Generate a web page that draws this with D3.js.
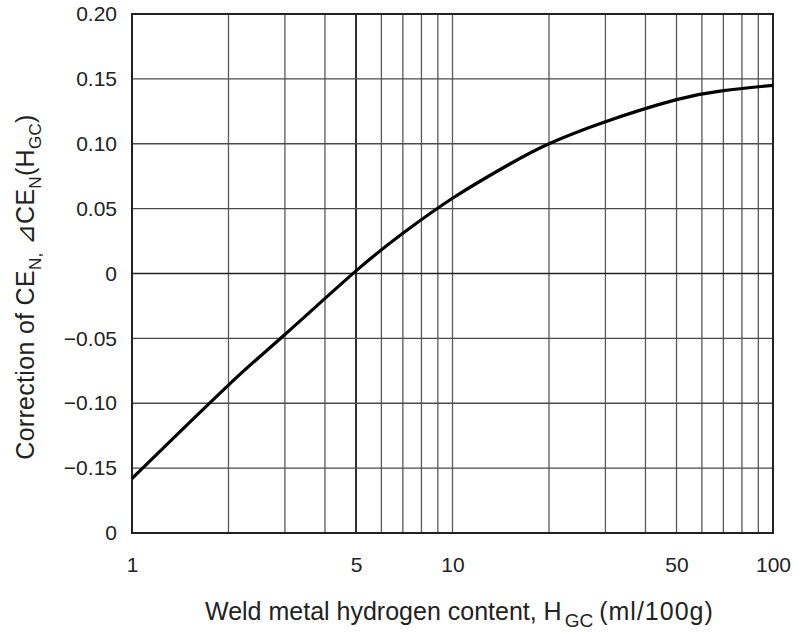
<!DOCTYPE html>
<html>
<head>
<meta charset="utf-8">
<script src="https://cdn.jsdelivr.net/npm/d3@7"></script>
<style>
  html, body { margin: 0; padding: 0; background: #fff; }
  svg { display: block; }
  .tick text { font-family: "Liberation Sans", Arial, sans-serif; font-size: 21px; fill: #222; }
  .title { font-family: "Liberation Sans", Arial, sans-serif; font-size: 25px; fill: #222; }
</style>
</head>
<body>
<svg id="chart" width="800" height="637"></svg>
<script>
// Hydrogen content H_GC (ml/100g) and the correction ΔCE_N(H_GC)
const hydrogen = [1, 2, 3, 5, 7, 10, 15, 20, 30, 50, 70, 100];
const correction = [-0.158, -0.086, -0.047, 0.002, 0.031, 0.058, 0.084, 0.100, 0.117, 0.134, 0.141, 0.145];

// Axis ticks and labels
const xTicks = [1, 5, 10, 50, 100];
const yTicks = [0.20, 0.15, 0.10, 0.05, 0, -0.05, -0.10, -0.15, -0.20];
const yTickLabels = ["0.20", "0.15", "0.10", "0.05", "0", "\u22120.05", "\u22120.10", "\u22120.15", "0"];
const xGrid = [2, 3, 4, 5, 6, 7, 8, 9, 10, 20, 30, 40, 50, 60, 70, 80, 90];
const yGrid = [0.15, 0.10, 0.05, 0, -0.05, -0.10, -0.15];

const svg = d3.select("#chart");
const plotL = 132, plotR = 773, plotT = 14, plotB = 533;

const x = d3.scaleLog().domain([1, 100]).range([plotL, plotR]);
const y = d3.scaleLinear().domain([-0.20, 0.20]).range([plotB, plotT]);

// grid
svg.append("g").selectAll("line").data(xGrid).join("line")
  .attr("x1", d => x(d)).attr("x2", d => x(d))
  .attr("y1", plotT).attr("y2", plotB)
  .attr("stroke", d => d === 5 ? "#1a1a1a" : "#5a5a5a")
  .attr("stroke-width", d => d === 5 ? 1.8 : 1.3);

svg.append("g").selectAll("line").data(yGrid).join("line")
  .attr("x1", plotL).attr("x2", plotR)
  .attr("y1", d => y(d)).attr("y2", d => y(d))
  .attr("stroke", d => d === 0 ? "#222" : "#4a4a4a")
  .attr("stroke-width", d => d === 0 ? 1.6 : 1.3);

// frame
svg.append("rect")
  .attr("x", plotL).attr("y", plotT)
  .attr("width", plotR - plotL).attr("height", plotB - plotT)
  .attr("fill", "none").attr("stroke", "#222").attr("stroke-width", 2);

// axes
const yAxis = d3.axisLeft(y).tickValues(yTicks).tickSize(0).tickPadding(15)
  .tickFormat((d, i) => yTickLabels[i]);
svg.append("g").attr("transform", `translate(${plotL},0)`).call(yAxis)
  .call(g => g.select(".domain").remove());

const xAxis = d3.axisBottom(x).tickValues(xTicks).tickSize(0).tickPadding(24)
  .tickFormat(d3.format("d"));
svg.append("g").attr("transform", `translate(0,${plotB})`).call(xAxis)
  .call(g => g.select(".domain").remove());

// curve
const line = d3.line()
  .x((d, i) => x(hydrogen[i]))
  .y(d => y(d))
  .curve(d3.curveNatural);
svg.append("path")
  .datum(correction)
  .attr("d", line)
  .attr("fill", "none")
  .attr("stroke", "#000")
  .attr("stroke-width", 3.2)
  .attr("stroke-linejoin", "round");

// x title
const xt = svg.append("text").attr("class", "title")
  .attr("x", 205).attr("y", 620).attr("text-anchor", "start");
xt.append("tspan").text("Weld metal hydrogen content, H");
xt.append("tspan").attr("font-size", "19px").attr("dx", 3).attr("dy", 7).text("GC");
xt.append("tspan").attr("dx", 6).attr("dy", -7).attr("letter-spacing", "1px").text("(ml/100g)");

// y title
const yt = svg.append("text").attr("class", "title")
  .attr("font-size", "26px")
  .attr("letter-spacing", "0.3px")
  .attr("transform", "translate(34,287) rotate(-90)")
  .attr("text-anchor", "middle");
yt.append("tspan").text("Correction of CE");
yt.append("tspan").attr("font-size", "17px").attr("dy", 7).text("N,");
yt.append("tspan").attr("dy", -7).text("  \u22BFCE");
yt.append("tspan").attr("font-size", "17px").attr("dy", 7).text("N");
yt.append("tspan").attr("dy", -7).text("(H");
yt.append("tspan").attr("font-size", "17px").attr("dy", 7).text("GC");
yt.append("tspan").attr("dy", -7).text(")");
</script>
</body>
</html>
